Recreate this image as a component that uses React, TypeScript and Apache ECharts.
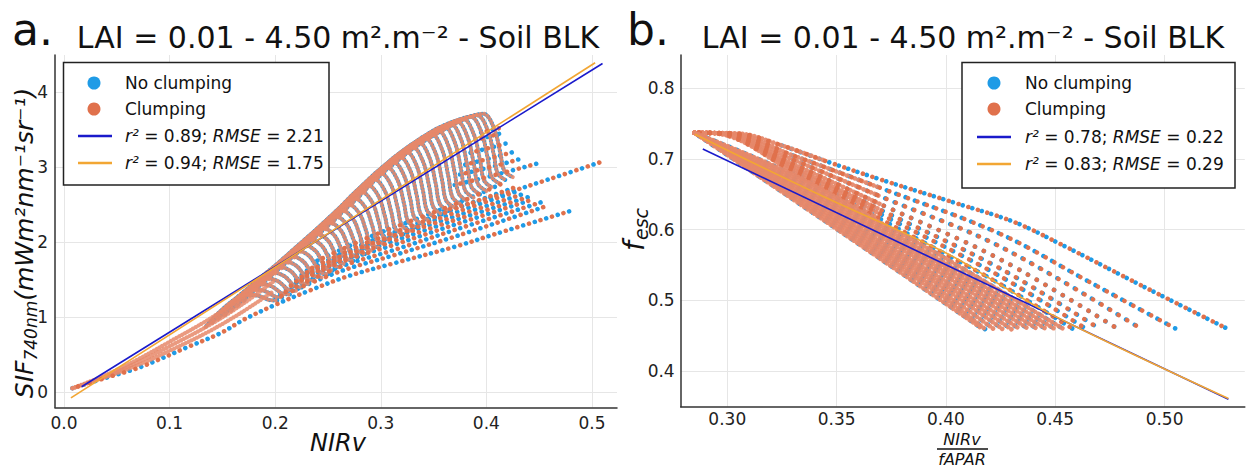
import React, { useEffect, useRef } from "react";
import * as echarts from "echarts";

type P = [number, number];

const FONT = "DejaVu Sans";
const BLUE = "#1f9be6";
const ORANGE = "#e0714c";
const ORANGE_ARC = "#e6886a";
const FIT_BLUE = "#1a1acb";
const FIT_ORANGE = "#f2a633";

// ---------- Panel a : SIF740 vs NIRv ----------
// Nested arcs of the dense (clumping-dominated) cloud
const ARCS_A: P[][] = [
  [[0.357, 3.475], [0.397, 3.71], [0.407, 3.524], [0.413, 3.203], [0.417, 2.95], [0.425, 2.865]],
  [[0.351, 3.425], [0.391, 3.69], [0.401, 3.499], [0.407, 3.168], [0.411, 2.907], [0.419, 2.82]],
  [[0.345, 3.373], [0.385, 3.67], [0.395, 3.473], [0.401, 3.134], [0.405, 2.865], [0.413, 2.776]],
  [[0.338, 3.31], [0.378, 3.64], [0.388, 3.438], [0.394, 3.09], [0.398, 2.816], [0.406, 2.724]],
  [[0.332, 3.25], [0.372, 3.61], [0.382, 3.405], [0.388, 3.052], [0.392, 2.773], [0.400, 2.68]],
  [[0.326, 3.19], [0.366, 3.575], [0.376, 3.368], [0.382, 3.012], [0.386, 2.73], [0.394, 2.636]],
  [[0.320, 3.12], [0.360, 3.54], [0.370, 3.331], [0.376, 2.97], [0.380, 2.685], [0.388, 2.59]],
  [[0.314, 3.05], [0.354, 3.49], [0.364, 3.283], [0.370, 2.924], [0.374, 2.641], [0.382, 2.547]],
  [[0.308, 2.98], [0.348, 3.44], [0.358, 3.233], [0.364, 2.876], [0.368, 2.594], [0.376, 2.50]],
  [[0.302, 2.91], [0.342, 3.385], [0.352, 3.181], [0.358, 2.829], [0.362, 2.551], [0.370, 2.458]],
  [[0.296, 2.83], [0.336, 3.33], [0.346, 3.128], [0.352, 2.78], [0.356, 2.506], [0.364, 2.414]],
  [[0.290, 2.75], [0.330, 3.27], [0.340, 3.072], [0.346, 2.729], [0.350, 2.459], [0.358, 2.369]],
  [[0.284, 2.66], [0.324, 3.21], [0.334, 3.015], [0.340, 2.679], [0.344, 2.414], [0.352, 2.325]],
  [[0.278, 2.57], [0.318, 3.14], [0.328, 2.951], [0.334, 2.624], [0.338, 2.366], [0.346, 2.28]],
  [[0.272, 2.49], [0.312, 3.07], [0.322, 2.887], [0.328, 2.57], [0.332, 2.319], [0.340, 2.236]],
  [[0.266, 2.41], [0.306, 3.00], [0.316, 2.822], [0.322, 2.514], [0.326, 2.271], [0.334, 2.19]],
  [[0.260, 2.33], [0.300, 2.92], [0.310, 2.75], [0.316, 2.456], [0.320, 2.224], [0.328, 2.147]],
  [[0.254, 2.245], [0.294, 2.84], [0.304, 2.677], [0.310, 2.396], [0.314, 2.174], [0.322, 2.10]],
  [[0.248, 2.17], [0.288, 2.76], [0.298, 2.606], [0.304, 2.339], [0.308, 2.128], [0.316, 2.058]],
  [[0.242, 2.095], [0.282, 2.67], [0.292, 2.526], [0.298, 2.276], [0.302, 2.08], [0.310, 2.014]],
  [[0.236, 2.02], [0.276, 2.58], [0.286, 2.446], [0.292, 2.214], [0.296, 2.031], [0.304, 1.97]],
  [[0.230, 1.945], [0.270, 2.50], [0.280, 2.374], [0.286, 2.155], [0.290, 1.983], [0.298, 1.925]],
  [[0.224, 1.87], [0.264, 2.42], [0.274, 2.301], [0.280, 2.096], [0.284, 1.934], [0.292, 1.88]],
  [[0.218, 1.795], [0.258, 2.34], [0.268, 2.229], [0.274, 2.038], [0.278, 1.886], [0.286, 1.836]],
  [[0.212, 1.725], [0.252, 2.26], [0.262, 2.157], [0.268, 1.979], [0.272, 1.839], [0.280, 1.792]],
  [[0.206, 1.65], [0.246, 2.185], [0.256, 2.089], [0.262, 1.923], [0.266, 1.792], [0.274, 1.748]],
  [[0.200, 1.58], [0.240, 2.11], [0.250, 2.02], [0.256, 1.864], [0.260, 1.741], [0.268, 1.70]],
  [[0.194, 1.505], [0.234, 2.035], [0.244, 1.952], [0.250, 1.809], [0.254, 1.697], [0.262, 1.659]],
  [[0.188, 1.43], [0.228, 1.96], [0.238, 1.884], [0.244, 1.752], [0.248, 1.649], [0.256, 1.614]],
  [[0.182, 1.355], [0.222, 1.885], [0.232, 1.816], [0.238, 1.696], [0.242, 1.602], [0.250, 1.57]],
  [[0.176, 1.28], [0.216, 1.81], [0.226, 1.748], [0.232, 1.64], [0.236, 1.554], [0.244, 1.526]],
  [[0.170, 1.21], [0.210, 1.74], [0.220, 1.683], [0.226, 1.584], [0.230, 1.506], [0.238, 1.48]],
  [[0.164, 1.145], [0.204, 1.67], [0.214, 1.619], [0.220, 1.53], [0.224, 1.46], [0.232, 1.437]],
  [[0.158, 1.08], [0.198, 1.595], [0.208, 1.55], [0.214, 1.473], [0.218, 1.412], [0.226, 1.392]],
  [[0.152, 1.025], [0.192, 1.52], [0.202, 1.482], [0.208, 1.417], [0.212, 1.365], [0.220, 1.348]],
  [[0.146, 0.975], [0.186, 1.445], [0.196, 1.413], [0.202, 1.358], [0.206, 1.315], [0.214, 1.30]],
  [[0.140, 0.92], [0.180, 1.37], [0.190, 1.346], [0.196, 1.304], [0.200, 1.271], [0.208, 1.26]],
  [[0.134, 0.865], [0.174, 1.30], [0.184, 1.282], [0.190, 1.252], [0.194, 1.228], [0.202, 1.22]],
];

// Dense band near the origin
const BAND_A: P[][] = [
  [[0.008, 0.05], [0.04, 0.23], [0.072, 0.45], [0.1, 0.67], [0.135, 0.95], [0.167, 1.25], [0.198, 1.58]],
  [[0.008, 0.05], [0.04, 0.21], [0.072, 0.41], [0.1, 0.61], [0.135, 0.87], [0.167, 1.15], [0.198, 1.47]],
  [[0.008, 0.05], [0.04, 0.20], [0.072, 0.37], [0.1, 0.55], [0.135, 0.79], [0.167, 1.05], [0.198, 1.34]],
];

// Sparse rows of points (rays) of panel a
const RAYS_A: P[][] = [
  [[0.008, 0.05], [0.04, 0.19], [0.072, 0.33], [0.119, 0.61], [0.149, 0.79], [0.171, 0.97], [0.201, 1.167], [0.231, 1.344], [0.269, 1.544], [0.314, 1.722], [0.372, 1.944], [0.407, 2.10], [0.482, 2.424]],
  [[0.201, 1.25], [0.26, 1.60], [0.314, 1.83], [0.372, 2.08], [0.4586, 2.487]],
  [[0.205, 1.30], [0.26, 1.66], [0.314, 1.90], [0.372, 2.17], [0.452, 2.53]],
  [[0.21, 1.38], [0.26, 1.72], [0.314, 1.97], [0.372, 2.24], [0.4444, 2.57]],
  [[0.215, 1.44], [0.265, 1.77], [0.314, 2.02], [0.372, 2.30], [0.440, 2.60]],
  [[0.22, 1.50], [0.27, 1.83], [0.314, 2.07], [0.372, 2.35], [0.435, 2.64]],
  [[0.225, 1.56], [0.275, 1.89], [0.325, 2.15], [0.372, 2.40], [0.430, 2.68]],
  [[0.23, 1.62], [0.28, 1.95], [0.33, 2.22], [0.372, 2.45], [0.4255, 2.72]],
  [[0.24, 1.75], [0.29, 2.07], [0.34, 2.34], [0.38, 2.56], [0.418, 2.80]],
  [[0.36, 2.42], [0.411, 2.62], [0.46, 2.84], [0.5107, 3.077]],
  [[0.37, 2.76], [0.41, 2.90], [0.4508, 3.056]],
  [[0.375, 2.90], [0.41, 3.02], [0.4334, 3.113]],
  [[0.38, 3.03], [0.41, 3.14], [0.4255, 3.20]],
  [[0.385, 3.19], [0.41, 3.28], [0.4208, 3.323]],
  [[0.39, 3.36], [0.416, 3.456]],
  [[0.395, 3.46], [0.413, 3.52]],
];

const FIT_A_NOCLUMP: P[] = [[0.0167, 0.069], [0.51, 4.38]];
const FIT_A_CLUMP: P[] = [[0.0066, -0.078], [0.503, 4.39]];

// ---------- Panel b : f_esc vs NIRv/fAPAR ----------
const RAYS_B_OUTER: P[][] = [
  [[0.285, 0.737], [0.305, 0.736], [0.325, 0.719], [0.345, 0.697], [0.370, 0.671], [0.405, 0.637], [0.431, 0.611], [0.454, 0.577], [0.490, 0.520], [0.5292, 0.459]],
  [[0.285, 0.737], [0.302, 0.736], [0.330, 0.705], [0.370, 0.659], [0.4248, 0.594], [0.465, 0.527], [0.5056, 0.459]],
  [[0.285, 0.737], [0.300, 0.736], [0.330, 0.699], [0.370, 0.647], [0.4248, 0.576], [0.4896, 0.459]],
  [[0.285, 0.737], [0.298, 0.736], [0.330, 0.693], [0.370, 0.636], [0.4248, 0.558], [0.4789, 0.459]],
  [[0.285, 0.737], [0.297, 0.736], [0.330, 0.689], [0.370, 0.628], [0.4248, 0.545], [0.4706, 0.459]],
  [[0.285, 0.737], [0.296, 0.736], [0.330, 0.686], [0.370, 0.622], [0.4248, 0.534], [0.4644, 0.459]],
  [[0.285, 0.737], [0.295, 0.736], [0.330, 0.682], [0.370, 0.615], [0.400, 0.565], [0.4248, 0.523], [0.4583, 0.459]],
];
const RAYS_B_INNER: P[][] = [
  [[0.285, 0.737], [0.33, 0.678], [0.37, 0.610], [0.40, 0.559], [0.454, 0.459]],
  [[0.285, 0.737], [0.33, 0.675], [0.37, 0.605], [0.40, 0.552], [0.450, 0.459]],
  [[0.285, 0.737], [0.33, 0.671], [0.37, 0.600], [0.40, 0.546], [0.446, 0.459]],
  [[0.285, 0.737], [0.33, 0.667], [0.37, 0.595], [0.40, 0.540], [0.442, 0.459]],
  [[0.285, 0.737], [0.33, 0.664], [0.37, 0.590], [0.40, 0.534], [0.438, 0.459]],
  [[0.285, 0.737], [0.33, 0.660], [0.37, 0.584], [0.40, 0.527], [0.434, 0.459]],
  [[0.285, 0.737], [0.33, 0.657], [0.37, 0.579], [0.40, 0.521], [0.430, 0.459]],
  [[0.285, 0.737], [0.33, 0.653], [0.37, 0.574], [0.40, 0.515], [0.426, 0.459]],
  [[0.285, 0.737], [0.33, 0.650], [0.37, 0.569], [0.40, 0.508], [0.422, 0.459]],
  [[0.285, 0.737], [0.33, 0.646], [0.37, 0.564], [0.40, 0.502], [0.418, 0.459]],
  [[0.285, 0.737], [0.35, 0.601], [0.4156, 0.462]],
];

const FIT_B_NOCLUMP: P[] = [[0.2888, 0.714], [0.5292, 0.36]];
const FIT_B_CLUMP: P[] = [[0.2852, 0.735], [0.3393, 0.6536], [0.4003, 0.5665], [0.4248, 0.522], [0.45, 0.477], [0.5292, 0.361]];

const TICKS_A_X_DIGITS = 1;
const TICKS_B_X_DIGITS = 2;

const LEGEND_A = ["No clumping", "Clumping", "0.89", "2.21", "0.94", "1.75"];
const LEGEND_B = ["No clumping", "Clumping", "0.78", "0.22", "0.83", "0.29"];

function dotted(name: string, data: P[], color: string, gap: number, offset: number, gi: number, z: number, width = 4.6, opacity = 1) {
  return {
    type: "line",
    name,
    xAxisIndex: gi,
    yAxisIndex: gi,
    data,
    symbol: "none",
    showSymbol: false,
    smooth: 0.35,
    silent: true,
    z,
    itemStyle: { color },
    lineStyle: { color, width, type: [0.01, gap], dashOffset: offset, cap: "round", opacity },
  };
}

function fitLine(name: string, data: P[], color: string, gi: number, smooth = false) {
  return {
    type: "line",
    name,
    xAxisIndex: gi,
    yAxisIndex: gi,
    data,
    symbol: "none",
    showSymbol: false,
    smooth: smooth ? 0.4 : false,
    silent: true,
    z: 10,
    itemStyle: { color },
    lineStyle: { color, width: 1.6 },
  };
}

function legendGraphic(x0: number, y0: number, w: number, h: number, rows: number[], mx: number, lx1: number, lx2: number, tx: number, labels: string[]) {
  const txtStyle = { fontFamily: FONT, fontSize: 17, fill: "#111" };
  const rich = { i: { fontStyle: "italic", fontFamily: FONT, fontSize: 17, fill: "#111" } };
  const mid = { verticalAlign: "middle", textVerticalAlign: "middle" };
  return [
    { type: "rect", z: 100, shape: { x: x0, y: y0, width: w, height: h }, style: { fill: "#fff", stroke: "#222", lineWidth: 1.5 } },
    { type: "circle", z: 101, shape: { cx: mx, cy: rows[0], r: 6.5 }, style: { fill: BLUE } },
    { type: "circle", z: 101, shape: { cx: mx, cy: rows[1], r: 6.5 }, style: { fill: ORANGE } },
    { type: "line", z: 101, shape: { x1: lx1, y1: rows[2], x2: lx2, y2: rows[2] }, style: { stroke: FIT_BLUE, lineWidth: 2.5 } },
    { type: "line", z: 101, shape: { x1: lx1, y1: rows[3], x2: lx2, y2: rows[3] }, style: { stroke: FIT_ORANGE, lineWidth: 2.5 } },
    { type: "text", z: 101, x: tx, y: rows[0], style: { ...txtStyle, ...mid, text: labels[0] } },
    { type: "text", z: 101, x: tx, y: rows[1], style: { ...txtStyle, ...mid, text: labels[1] } },
    { type: "text", z: 101, x: tx, y: rows[2], style: { ...txtStyle, ...mid, rich, text: `{i|r²} = ${labels[2]}; {i|RMSE} = ${labels[3]}` } },
    { type: "text", z: 101, x: tx, y: rows[3], style: { ...txtStyle, ...mid, rich, text: `{i|r²} = ${labels[4]}; {i|RMSE} = ${labels[5]}` } },
  ];
}

function axisCommon(digits: number | null, margin: number) {
  return {
    type: "value",
    axisLine: { show: true, onZero: false, lineStyle: { color: "#333", width: 1.5 } },
    axisTick: { show: false },
    axisLabel: {
      showMinLabel: false,
      showMaxLabel: false,
      fontFamily: FONT,
      fontSize: 17,
      color: "#222",
      margin,
      formatter: (v: number) => (digits === null ? String(Math.round(v)) : v.toFixed(digits)),
    },
    splitLine: { show: true, showMinLine: false, showMaxLine: false, lineStyle: { color: "#e6e6e6", width: 1 } },
  };
}

export default function App() {
  const ref = useRef<HTMLDivElement>(null);
  useEffect(() => {
    if (!ref.current) return;
    const chart = echarts.init(ref.current, undefined, { renderer: "svg" });
    const series: any[] = [];
    // Panel a : No clumping below, Clumping on top
    ARCS_A.forEach((d) => series.push(dotted("No clumping", d, BLUE, 3.6, 1.8, 0, 2, 4.2)));
    RAYS_A.forEach((d) => series.push(dotted("No clumping", d, BLUE, 12, 0, 0, 3)));
    BAND_A.forEach((d) => series.push(dotted("Clumping", d, ORANGE_ARC, 3.2, 0, 0, 4, 4.2, 0.85)));
    ARCS_A.forEach((d) => series.push(dotted("Clumping", d, ORANGE_ARC, 3.6, 0, 0, 4, 4.0, 0.9)));
    RAYS_A.forEach((d) => series.push(dotted("Clumping", d, ORANGE, 12, 6, 0, 5)));
    series.push(fitLine("r² = 0.89; RMSE = 2.21", FIT_A_NOCLUMP, FIT_BLUE, 0));
    series.push(fitLine("r² = 0.94; RMSE = 1.75", FIT_A_CLUMP, FIT_ORANGE, 0));
    // Panel b
    RAYS_B_OUTER.forEach((d) => series.push(dotted("No clumping", d.slice(2), BLUE, 10, 0, 1, 2)));
    RAYS_B_INNER.forEach((d) => series.push(dotted("No clumping", d, BLUE, 8, 2, 1, 2)));
    RAYS_B_OUTER.forEach((d) => series.push(dotted("Clumping", d.slice(0, 4), ORANGE_ARC, 4, 0, 1, 4, 4.6, 0.95)));
    RAYS_B_OUTER.forEach((d) => series.push(dotted("Clumping", d, ORANGE, 10, 5, 1, 4)));
    RAYS_B_INNER.forEach((d) => series.push(dotted("Clumping", d, ORANGE_ARC, 4, 0, 1, 4, 4.6, 0.95)));
    series.push(fitLine("r² = 0.78; RMSE = 0.22", FIT_B_NOCLUMP, FIT_BLUE, 1));
    series.push(fitLine("r² = 0.83; RMSE = 0.29", FIT_B_CLUMP, FIT_ORANGE, 1, true));

    const mid = { verticalAlign: "middle", textVerticalAlign: "middle" };
    const center = { align: "center", textAlign: "center" };
    const titleStyle = { fontFamily: FONT, fontSize: 30, fill: "#111" };
    const graphic: any[] = [
      { type: "text", x: 12, y: 29, style: { ...mid, text: "a.", fontFamily: FONT, fontSize: 44, fill: "#111" } },
      { type: "text", x: 627, y: 29, style: { ...mid, text: "b.", fontFamily: FONT, fontSize: 44, fill: "#111" } },
      { type: "text", x: 338, y: 37, style: { ...titleStyle, ...center, ...mid, text: "LAI = 0.01 - 4.50 m².m⁻² - Soil BLK" } },
      { type: "text", x: 963, y: 37, style: { ...titleStyle, ...center, ...mid, text: "LAI = 0.01 - 4.50 m².m⁻² - Soil BLK" } },
      {
        type: "text", x: 24, y: 243, rotation: Math.PI / 2,
        style: {
          ...center, ...mid,
          text: "{i|SIF}{s|740nm}{i|(mWm²nm⁻¹sr⁻¹)}",
          rich: {
            i: { fontFamily: FONT, fontStyle: "italic", fontSize: 25, lineHeight: 30, fill: "#111" },
            s: { fontFamily: FONT, fontStyle: "italic", fontSize: 17, lineHeight: 30, verticalAlign: "bottom", fill: "#111" },
          },
        },
      },
      { type: "text", x: 338, y: 443, style: { ...center, ...mid, text: "NIRv", fontFamily: FONT, fontStyle: "italic", fontSize: 24, fill: "#111" } },
      { type: "text", x: 634, y: 251, rotation: Math.PI / 2, style: { ...mid, align: "left", textAlign: "left", text: "f", fontFamily: FONT, fontStyle: "italic", fontSize: 28, fill: "#111" } },
      { type: "text", x: 641, y: 240, rotation: Math.PI / 2, style: { ...mid, align: "left", textAlign: "left", text: "esc", fontFamily: FONT, fontStyle: "italic", fontSize: 19, fill: "#111" } },
      { type: "text", x: 962, y: 439, style: { ...center, ...mid, text: "NIRv", fontFamily: FONT, fontStyle: "italic", fontSize: 16, fill: "#111" } },
      { type: "line", shape: { x1: 937, y1: 449, x2: 988, y2: 449 }, style: { stroke: "#111", lineWidth: 1.3 } },
      { type: "text", x: 962, y: 459, style: { ...center, ...mid, text: "fAPAR", fontFamily: FONT, fontStyle: "italic", fontSize: 16, fill: "#111" } },
      ...legendGraphic(63.5, 62.5, 265.5, 122.5, [83, 109, 136, 163], 94, 78, 112, 125, LEGEND_A),
      ...legendGraphic(962, 62.5, 273, 125.5, [83, 109, 137, 164], 994, 977, 1011, 1025, LEGEND_B),
    ];

    chart.setOption({
      animation: false,
      backgroundColor: "#fff",
      textStyle: { fontFamily: FONT },
      grid: [
        { left: 55, top: 55, width: 562, height: 352.5 },
        { left: 680.7, top: 55, width: 564.1, height: 351.7 },
      ],
      xAxis: [
        { ...axisCommon(TICKS_A_X_DIGITS, 7), gridIndex: 0, min: -0.0085, max: 0.5237 },
        { ...axisCommon(TICKS_B_X_DIGITS, 4), gridIndex: 1, min: 0.2787, max: 0.5367 },
      ],
      yAxis: [
        { ...axisCommon(null, 7), gridIndex: 0, min: -0.207, max: 4.493 },
        { ...axisCommon(1, 6), gridIndex: 1, min: 0.3495, max: 0.847 },
      ],
      graphic,
      series,
    });
    return () => chart.dispose();
  }, []);
  return <div ref={ref} style={{ position: "absolute", left: 0, top: 0, width: 1246, height: 469, background: "#fff" }} />;
}
